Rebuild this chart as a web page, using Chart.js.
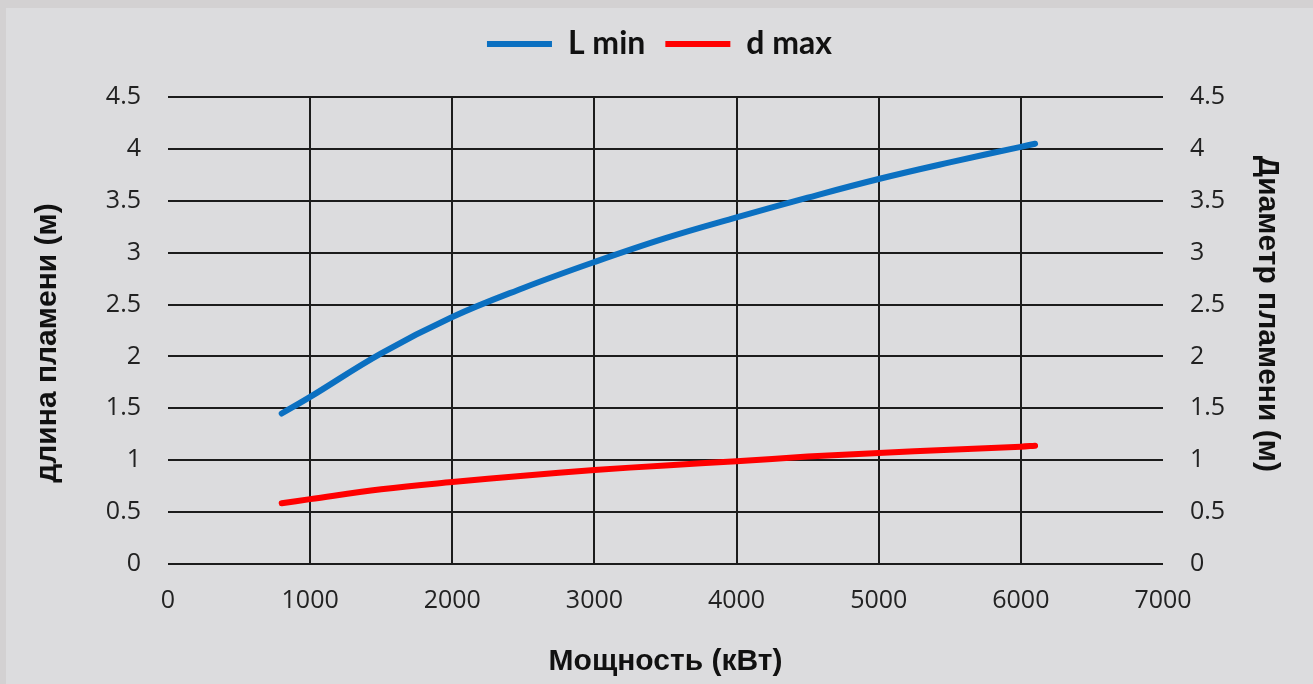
<!DOCTYPE html>
<html>
<head>
<meta charset="utf-8">
<script src="https://cdn.jsdelivr.net/npm/chart.js@4/dist/chart.umd.min.js"></script>
<style>
  html, body { margin: 0; padding: 0; }
  body { width: 1313px; height: 684px; background: #d3d1d2; overflow: hidden; position: relative; }
  #wrap { position: absolute; left: 6px; top: 8px; width: 1307px; height: 676px; background: #dcdcde; }
</style>
</head>
<body>
<div id="wrap"><canvas id="flame_chart"></canvas></div>
<script>
// мощность горелки, кВт
const power_kw = [800, 1000, 1500, 2000, 2500, 3000, 3500, 4000, 4500, 5000, 5500, 6000, 6100];
// минимальная длина пламени, м
const l_min = [1.45, 1.61, 2.03, 2.38, 2.66, 2.91, 3.14, 3.34, 3.53, 3.71, 3.87, 4.02, 4.05];
// максимальный диаметр пламени, м
const d_max = [0.585, 0.625, 0.72, 0.79, 0.85, 0.905, 0.95, 0.99, 1.035, 1.07, 1.10, 1.13, 1.14];

const series_names = ["L min", "d max"];
const x_title = "Мощность (кВт)";
// пробелы в конце сдвигают подписи осей как в оригинале
const y_title = "длина пламени (м)   ";
const y2_title = "Диаметр пламени (м)    ";

const grid_color = "#1c1c1c";
const tick_font = { family: "'Open Sans'", size: 25 };
const title_font = { family: "'Liberation Sans', Arial", size: 30, weight: "bold" };

function toPoints(values) {
  return power_kw.map((p, i) => ({ x: p, y: values[i] }));
}

const ctx = document.getElementById("flame_chart").getContext("2d");

const my_chart = new Chart(ctx, {
  type: "line",
  data: {
    datasets: [
      {
        label: series_names[0],
        data: toPoints(l_min),
        borderColor: "#0b70c1",
        backgroundColor: "#0b70c1",
        borderWidth: 6,
        borderCapStyle: "round",
        pointRadius: 0,
        tension: 0.4,
        fill: false,
      },
      {
        label: series_names[1],
        data: toPoints(d_max),
        borderColor: "#ff0000",
        backgroundColor: "#ff0000",
        borderWidth: 6,
        borderCapStyle: "round",
        pointRadius: 0,
        tension: 0.4,
        fill: false,
      },
    ],
  },
  options: {
    responsive: true,
    maintainAspectRatio: false,
    animation: false,
    locale: "en-US",
    layout: { padding: 0 },
    plugins: {
      tooltip: { enabled: false },
      legend: {
        position: "top",
        labels: {
          usePointStyle: true,
          pointStyle: "line",
          pointStyleWidth: 65,
          padding: 20,
          color: "#111",
          font: { family: "Lato", size: 32, weight: "bold" },
        },
      },
      // пустой блок для отступа между легендой и графиком
      title: {
        display: true,
        text: "",
        weight: 100,
        padding: { top: 0, bottom: 3 },
        font: { size: 20 },
      },
    },
    scales: {
      x: {
        type: "linear",
        min: 0,
        max: 7000,
        afterFit: (scale) => { scale.height = 120; },
        border: { display: false },
        grid: {
          drawTicks: false,
          lineWidth: 2,
          color: (c) => (c.tick && (c.tick.value === 0 || c.tick.value === 7000)) ? "rgba(0,0,0,0)" : grid_color,
        },
        ticks: {
          stepSize: 1000,
          padding: 22,
          color: "#222",
          font: tick_font,
          maxRotation: 0,
          callback: (v) => String(v),
        },
        title: {
          display: true,
          text: x_title,
          color: "#111",
          font: title_font,
          padding: { top: 0, bottom: 4 },
        },
      },
      y: {
        position: "left",
        min: 0,
        max: 4.5,
        afterFit: (scale) => { scale.width = 162; },
        border: { display: false },
        grid: { drawTicks: false, lineWidth: 2, color: grid_color },
        ticks: { stepSize: 0.5, padding: 27, color: "#222", font: tick_font, callback: (v) => String(v) },
        title: {
          display: true,
          text: y_title,
          color: "#111",
          font: title_font,
          padding: { top: 24, bottom: 0 },
        },
      },
      y2: {
        position: "right",
        min: 0,
        max: 4.5,
        afterFit: (scale) => { scale.width = 150; },
        border: { display: false },
        grid: { display: false, drawTicks: false },
        ticks: { stepSize: 0.5, padding: 27, color: "#222", font: tick_font, callback: (v) => String(v) },
        title: {
          display: true,
          text: y2_title,
          color: "#111",
          font: title_font,
          padding: { top: 28, bottom: 0 },
        },
      },
    },
  },
});
</script>
</body>
</html>
